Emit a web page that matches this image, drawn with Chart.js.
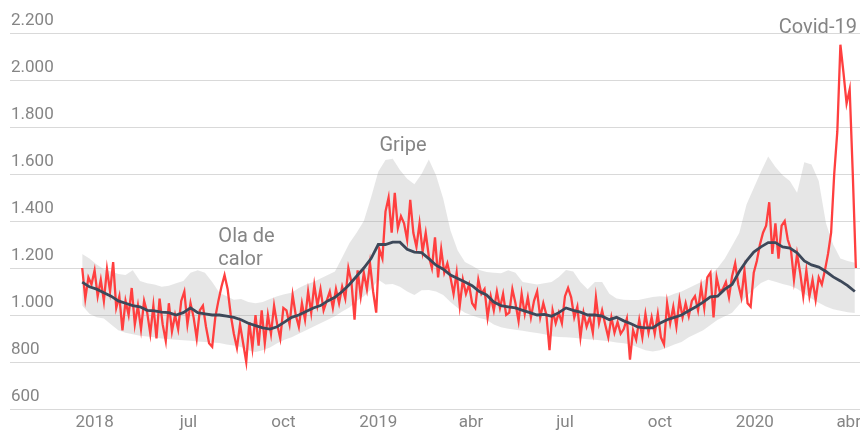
<!DOCTYPE html>
<html>
<head>
<meta charset="utf-8">
<style>
html,body{margin:0;padding:0;background:#fff;}
canvas{display:block;}
</style>
<script src="https://cdn.jsdelivr.net/npm/chart.js@4.4.1/dist/chart.umd.min.js"></script>
</head>
<body>
<canvas id="c" width="860" height="430"></canvas>
<script>
// ---- data ----
const EPOCH = '2018-01-01';
const axisStart = '2018-01-09';
const axisEnd = '2020-04-12';

const tickDates = ['2018-04-01','2018-07-01','2018-10-01','2019-01-01','2019-04-01','2019-07-01','2019-10-01','2020-01-01','2020-04-01'];
const tickLabels = ['2018','jul','oct','2019','abr','jul','oct','2020','abr'];
const yTicks = [600, 800, 1000, 1200, 1400, 1600, 1800, 2000, 2200];

// observed deaths, one reading every 3 days
const observedStart = '2018-03-20';
const observedStepDays = 3;
const observed = [
1200,1070,1160,1130,1190,1080,1150,1060,1195,1100,
1225,1030,1080,935,1060,1000,1115,960,1040,940,
1060,1010,920,1040,900,1070,960,890,1050,930,
1000,940,1060,1100,960,1050,990,900,1020,1040,
950,880,865,990,
1060,1120,1170,1110,1000,
920,860,960,880,800,970,860,1000,870,1020,
880,1000,920,1040,960,900,1030,1020,960,1085,
1000,950,1050,980,1100,1010,1128,1040,1110,1020,
1060,1100,1030,1110,1050,1120,1070,1200,1140,980,
1190,1080,1180,1110,1220,1100,1010,1280,1240,1440,
1500,1350,1520,1370,1420,1390,1320,1490,1350,1290,
1390,1270,1350,1250,1200,1330,1160,1280,1180,1220,
1160,1090,1180,1040,1150,1090,1130,1050,
1030,
1150,1090,1110,990,1080,1020,1100,1030,1090,1000,
1010,1110,1050,975,1090,1005,1075,990,1060,1100,
990,1050,1000,850,1020,965,1010,965,1080,1115,
1075,990,1035,905,1010,950,990,925,1075,965,
1020,960,905,990,925,970,920,940,985,810,
935,895,980,905,1005,925,990,920,1005,905,
875,1050,965,1035,950,1065,990,1050,995,1060,
1080,1020,1120,1030,1160,
1180,990,1160,1100,
1110,1140,1075,1165,1220,1130,1075,1190,1050,1035,
1180,1230,1300,1350,1380,1480,1260,1390,1240,1380,
1400,1320,1280,1150,1260,1180,1080,1190,1080,1150,
1065,1160,1130,1190,1260,1350,1600,1780,2150,2030,
1900,1960,1600,1200
];

// expected deaths and range, one reading per week
const weeklyStart = '2018-03-20';
const weeklyStepDays = 7;
const expected = [
1140,1120,1110,1095,1080,1060,1050,1040,1035,1020,
1018,1012,1010,1000,1010,1030,1010,1005,1000,1000,
995,990,980,965,955,945,940,950,970,990,
1000,1015,1030,1040,1060,1075,
1100,1130,1165,1200,1240,1300,1300,1310,1310,1280,
1268,1265,1240,1212,1195,1170,1155,1140,1125,1100,
1085,
1055,1040,1035,1030,1020,1010,1000,1003,995,1010,
1030,1020,1012,1000,1000,995,980,990,975,963,
948,945,945,965,980,990,1000,1018,1035,1055,
1077,1080,1110,1130,1185,1230,1268,1290,1308,1308,
1290,1285,1265,1230,1213,1204,1185,1162,1145,1125,
1100
];
const rangeUpper = [
1260,1240,1215,1195,1185,1175,1170,1190,1145,1135,
1130,1120,1125,1135,1145,1180,1190,1180,1140,1095,
1080,1065,1068,1055,1050,1055,1068,1080,1088,1095,
1115,1130,1140,1155,1170,1185,
1245,1305,1350,1400,1500,1610,1660,1665,1617,1580,
1556,1600,1662,1595,1495,1360,1275,1226,1210,1192,
1183,
1180,1178,1190,1180,1140,1135,1130,1135,1140,1162,
1191,1185,1140,1110,1140,1140,1090,1070,1065,1064,
1064,1070,1077,1080,1078,1090,1100,1115,1130,1145,
1170,1200,1240,1295,1350,1470,1540,1610,1675,1630,
1595,1570,1520,1650,1640,1570,1390,1300,1240,1230,
1222
];
const rangeLower = [
1040,1005,990,985,960,935,925,918,912,908,
905,900,897,895,893,890,887,885,883,881,
875,870,864,850,843,850,862,880,895,905,
920,935,950,965,980,995,
1015,1032,1060,1080,1110,1150,1130,1132,1120,1100,
1085,1105,1106,1100,1085,1055,1030,1010,998,987,
980,
960,948,942,937,933,928,923,918,910,906,
905,903,900,897,895,892,888,883,880,875,
862,850,845,850,862,875,885,905,920,935,
957,980,995,1010,1045,1080,1110,1136,1150,1142,
1132,1125,1112,1090,1070,1052,1036,1025,1018,1012,
1008
];

// annotations (text and where it is anchored)
const notes = [
  { lines: ['Gripe'], date: '2019-01-25', value: 1700, align: 'center' },
  { lines: ['Ola de', 'calor'], date: '2018-07-30', value: 1312, align: 'left' },
  { lines: ['Covid-19'], date: '2020-04-09', value: 2200, align: 'right' }
];

// ---- helpers ----
function dayOf(s) { return Math.round((Date.parse(s) - Date.parse(EPOCH)) / 86400000); }
function toPoints(start, step, vals) {
  const d0 = dayOf(start);
  return vals.map((v, i) => ({ x: d0 + i * step, y: v }));
}
function fmt(v) {
  return v >= 1000 ? Math.floor(v / 1000) + '.' + String(v % 1000).padStart(3, '0') : String(v);
}

const TEXT = '#858585';
const FONT = 'Roboto';
Chart.defaults.font.family = FONT;

const notePlugin = {
  id: 'notes',
  afterDatasetsDraw(chart) {
    const { ctx, scales } = chart;
    ctx.save();
    ctx.font = '400 20px ' + FONT;
    ctx.fillStyle = TEXT;
    ctx.textBaseline = 'alphabetic';
    notes.forEach(n => {
      ctx.textAlign = n.align;
      const px = scales.x.getPixelForValue(dayOf(n.date));
      const py = scales.y.getPixelForValue(n.value);
      n.lines.forEach((t, k) => ctx.fillText(t, px, py + k * 23));
    });
    ctx.restore();
  }
};

const tickDays = tickDates.map(dayOf);

new Chart(document.getElementById('c'), {
  type: 'line',
  data: {
    datasets: [
      {
        label: 'Esperadas',
        data: toPoints(weeklyStart, weeklyStepDays, expected),
        borderColor: '#3d4859',
        borderWidth: 2.8,
        pointRadius: 0,
        tension: 0,
        fill: false
      },
      {
        label: 'Observadas',
        data: toPoints(observedStart, observedStepDays, observed),
        borderColor: '#ff3f3f',
        borderWidth: 2.3,
        pointRadius: 0,
        tension: 0,
        fill: false
      },
      {
        label: 'Máximo',
        data: toPoints(weeklyStart, weeklyStepDays, rangeUpper),
        borderWidth: 0,
        borderColor: 'rgba(0,0,0,0)',
        backgroundColor: 'rgba(160,160,160,0.26)',
        pointRadius: 0,
        tension: 0,
        fill: '+1'
      },
      {
        label: 'Mínimo',
        data: toPoints(weeklyStart, weeklyStepDays, rangeLower),
        borderWidth: 0,
        borderColor: 'rgba(0,0,0,0)',
        pointRadius: 0,
        tension: 0,
        fill: false
      }
    ]
  },
  options: {
    responsive: false,
    animation: false,
    events: [],
    layout: { autoPadding: false, padding: { left: 10, right: 0, top: 33, bottom: 0 } },
    plugins: { legend: { display: false }, tooltip: { enabled: false } },
    scales: {
      x: {
        type: 'linear',
        min: dayOf(axisStart),
        max: dayOf(axisEnd),
        grid: { display: false, drawTicks: false },
        border: { display: false },
        afterBuildTicks: ax => { ax.ticks = tickDays.map(v => ({ value: v })); },
        afterFit: ax => { ax.height = 21; ax.paddingLeft = 0; ax.paddingRight = 0; },
        ticks: {
          autoSkip: false,
          maxRotation: 0,
          padding: 4,
          color: TEXT,
          font: { size: 17, family: FONT },
          callback: (v, i) => tickLabels[i]
        }
      },
      y: {
        min: yTicks[0],
        max: yTicks[yTicks.length - 1],
        grid: { color: '#d9d9d9', lineWidth: 1, drawTicks: false },
        border: { display: false },
        afterBuildTicks: ax => { ax.ticks = yTicks.map(v => ({ value: v })); },
        afterFit: ax => { ax.width = 0; ax.paddingTop = 0; ax.paddingBottom = 0; },
        ticks: {
          mirror: true,
          padding: 1,
          labelOffset: -12,
          color: TEXT,
          font: { size: 17, family: FONT },
          callback: v => fmt(v)
        }
      }
    }
  },
  plugins: [notePlugin]
});
</script>
</body>
</html>
